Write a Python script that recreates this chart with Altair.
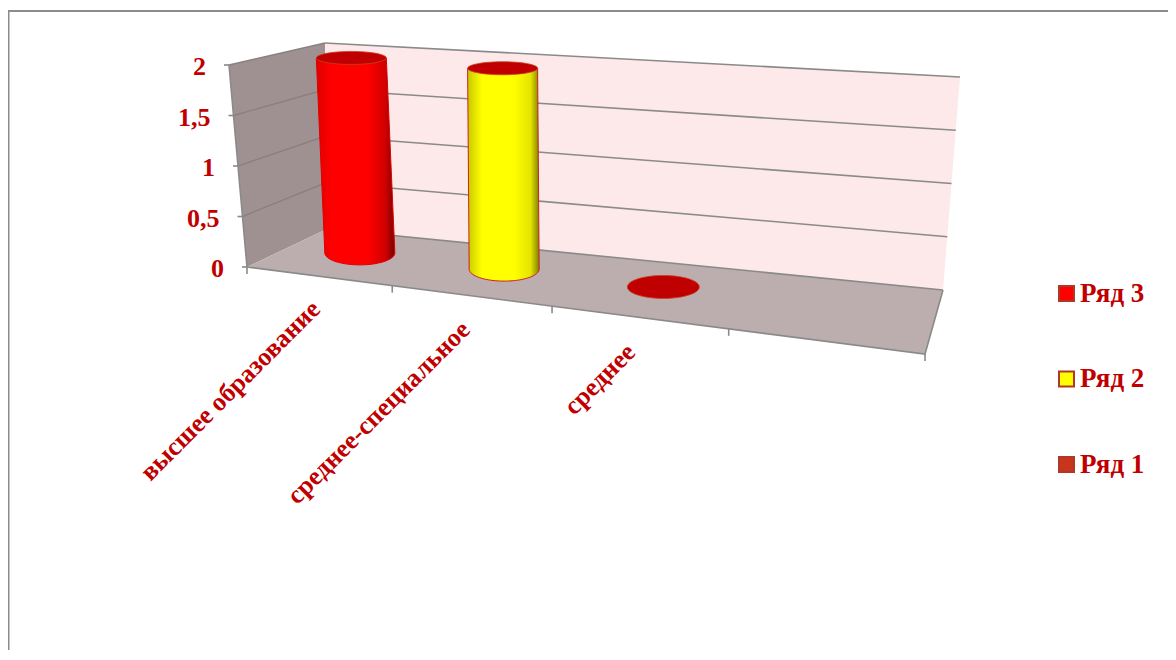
import altair as alt
import pandas as pd
import math

# --- chart content -------------------------------------------------------
categories = ["высшее образование", "среднее-специальное", "среднее", ""]
series = ["Ряд 3", "Ряд 2", "Ряд 1"]
series_values = [2, 2, 0]          # one cylinder per category
y_ticks = [0, 0.5, 1, 1.5, 2]
y_tick_labels = ["0", "0,5", "1", "1,5", "2"]
series_colors = ["#ff0000", "#ffff00", "#c8341c"]
cyl_edges = ["#e00000", "#ff0000", "#ff0000", "#d00000", "#7a0000"], ["#c8c800", "#ffff00", "#ffff00", "#e4e400", "#808000"]

# --- layout of the pseudo-3D box (screen pixels) ---------------------------
W, H = 1160, 642
FLOOR = [(247, 267), (925, 354), (943, 290), (327, 229)]   # FL FR BR BL
CEIL = [(229, 65), (948, 125), (960, 77), (325, 43)]
G = -0.182
VMAX = 2
DEPTH_FLOOR = 0.57
DEPTH_TOP = 0.54
FONT = "Liberation Serif"
RED = "#c00000"
GREY = "#8a8a8a"


def lerp(a, b, t):
    return (a[0] + (b[0] - a[0]) * t, a[1] + (b[1] - a[1]) * t)


def T(u):
    return u * (1 + G) / (1 + G * u)


def quad(q, u, d):
    t = T(u)
    return lerp(lerp(q[0], q[1], t), lerp(q[3], q[2], t), d)


def P(u, d, v, d_top=None):
    return lerp(quad(FLOOR, u, d), quad(CEIL, u, d if d_top is None else d_top), v / VMAX)


X = alt.X("x:Q", axis=None, scale=alt.Scale(domain=[8, 8 + W], nice=False, zero=False))
Y = alt.Y("y:Q", axis=None, scale=alt.Scale(domain=[8 + H, 8], nice=False, zero=False))


def frame(pts):
    return pd.DataFrame([{"x": p[0], "y": p[1], "i": i} for i, p in enumerate(pts)])


def poly(pts, fill, stroke="transparent", width=0):
    return alt.Chart(frame(pts)).mark_line(
        fill=fill, stroke=stroke, strokeWidth=width, interpolate="linear"
    ).encode(x=X, y=Y, order="i:Q")


def line(pts, color=GREY, width=1.6):
    return alt.Chart(frame(pts)).mark_line(stroke=color, strokeWidth=width).encode(x=X, y=Y, order="i:Q")


def label(px, py, text, align, size=26, angle=0, baseline="middle"):
    df = pd.DataFrame([{"x": px, "y": py, "t": text}])
    return alt.Chart(df).mark_text(
        font=FONT, fontWeight="bold", fontSize=size, color=RED, align=align, baseline=baseline, angle=angle
    ).encode(x=X, y=Y, text="t:N")


def ellipse(cx, cy, rx, ry, a0=0.0, a1=2 * math.pi, n=48):
    return [(cx + rx * math.cos(a0 + (a1 - a0) * k / n), cy + ry * math.sin(a0 + (a1 - a0) * k / n)) for k in range(n + 1)]


layers = []

# chart-area outline
layers.append(line([(8, 8 + H), (8, 11)], "#8c8c8c", 3))
layers.append(line([(8, 11), (8 + W, 11)], "#8c8c8c", 2))

# walls and floor
layers.append(poly([CEIL[0], CEIL[3], FLOOR[3], FLOOR[0]], "#9f9191"))
layers.append(poly([CEIL[3], CEIL[2], FLOOR[2], FLOOR[3]], "#fde9e9"))
layers.append(poly(FLOOR, "#bcaeae"))

# gridlines and value axis
for v, text in zip(y_ticks, y_tick_labels):
    a, b, c = P(0, 0, v), P(0, 1, v), P(1, 1, v)
    if v > 0:
        layers.append(line([a, b], "#8a8080", 1.4))
    layers.append(line([b, c]))
    layers.append(line([(a[0] - 5, a[1]), a]))
    layers.append(label(a[0] - 23, a[1] + 2, text, "right"))

# box edges and category ticks
layers.append(line([CEIL[0], FLOOR[0], FLOOR[1], FLOOR[2]]))
n = len(categories)
for k in range(n + 1):
    p = P(k / n, 0, 0)
    layers.append(line([p, (p[0], p[1] + 7)]))

# category labels
for k, cat in enumerate(categories):
    if cat:
        p = P((k + 0.5) / n, 0, 0)
        layers.append(label(p[0] - 2 - 2.5 * k, p[1] + 29 + k, cat, "right", angle=315))

# cylinders
RX, RY_TOP, RY_BOT = 35, 6.5, 12
for k, val in enumerate(series_values):
    u = (k + 0.5) / n
    bx, by = P(u, DEPTH_FLOOR, 0)
    tx, ty = P(u, DEPTH_FLOOR, val, DEPTH_TOP)
    if val > 0:
        body = [(tx - RX, ty)] + ellipse(bx, by, RX, RY_BOT, math.pi, 0) + [(tx + RX, ty)]
        stops = cyl_edges[k]
        grad = alt.LinearGradient(
            gradient="linear", x1=0, x2=1, y1=0, y2=0,
            stops=[alt.GradientStop(offset=o, color=c) for o, c in zip([0, 0.2, 0.65, 0.88, 1], stops)],
        )
        layers.append(poly(body, grad, "#d02020" if k == 1 else "#e00000", 1))
    layers.append(poly(ellipse(tx, ty, RX if val > 0 else 36, RY_TOP if val > 0 else 11.5), RED, "#c84020", 0.8))

# legend
leg = pd.DataFrame({"x": [P(0.125, 0.5, 0)[0]] * 3, "y": [P(0.125, 0.5, 0)[1]] * 3, "s": series})
layers.append(
    alt.Chart(leg).mark_square(size=0, opacity=1).encode(
        x=X, y=Y,
        fill=alt.Fill("s:N", scale=alt.Scale(domain=series, range=series_colors), legend=alt.Legend(
            title=None, orient="none", legendX=1045, legendY=272, symbolType="square", symbolSize=225,
            symbolStrokeColor="#b03828", symbolStrokeWidth=2, symbolOpacity=1,
            labelFont=FONT, labelFontWeight="bold", labelFontSize=27, labelColor=RED,
            labelOffset=0, rowPadding=57.5, values=series,
        )),
    )
)

chart = alt.layer(*layers).properties(
    width=W, height=H, padding=0, autosize=alt.AutoSizeParams(type="none")
).configure_view(stroke=None)

chart.save("out.html", embed_options={"renderer": "svg", "actions": False})
